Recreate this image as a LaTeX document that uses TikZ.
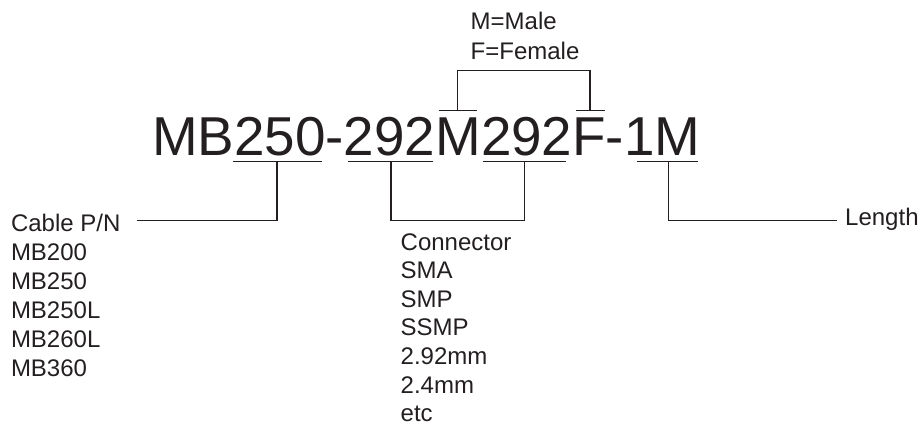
\documentclass[tikz,border=0pt]{standalone}
\usepackage{fontspec}
\setmainfont{Liberation Sans}
\definecolor{ink}{HTML}{231F20}
\begin{document}
\begin{tikzpicture}[x=1pt,y=-1pt,line join=miter,line cap=butt,font=\fontsize{24}{28.8}\selectfont,
		lbl/.style={inner sep=0pt,anchor=base west,align=left,text=ink},
		tick/.style={draw=ink,line width=1.3pt}]
			\useasboundingbox (0,0) rectangle (922,426);
			\node[lbl,font=\fontsize{54.8}{60}\selectfont] (pn) at (151.9,155){MB250-292M292F-1M};
			\foreach \nm/\xa/\xm/\xb in {cab/233.3/277/321.7,cona/348.3/391/432.7,conb/482.7/524.3/566,len/637.3/668.2/697.7}{
				\coordinate (\nm) at (\xm,161.7);
				\draw[tick] (\xa,161.7) -- (\xb,161.7);
			}
			\foreach \nm/\xa/\xm/\xb in {ovm/439.3/457.7/477.3,ovf/576/590/604.6}{
				\coordinate (\nm) at (\xm,110.7);
				\draw[tick] (\xa,110.7) -- (\xb,110.7);
			}
			\coordinate (cab-end) at (137,220.7);
			\coordinate (con-low) at (391,220.7);
			\coordinate (len-end) at (836.7,220.7);
			\coordinate (mf-top) at (590,70.7);
			\draw[tick] (cab) |- (cab-end);
			\draw[tick] (cona) -- (con-low) -| (conb);
			\draw[tick] (len) |- (len-end);
			\draw[tick] (ovm) |- (mf-top) -- (ovf);
			\node[lbl,font=\fontsize{24}{28.86}\selectfont] (cable) at (10.8,376){Cable P/N\\MB200\\MB250\\MB250L\\MB260L\\MB360};
			\node[lbl,font=\fontsize{24}{28.6}\selectfont] (conn) at (400.5,421.7){Connector\\SMA\\SMP\\SSMP\\2.92mm\\2.4mm\\etc};
			\node[lbl] (length) at (845,225.3){Length};
			\node[lbl,font=\fontsize{24}{30}\selectfont] (mf) at (470.5,59.3){M=Male\\F=Female};
	\end{tikzpicture}
\end{document}
